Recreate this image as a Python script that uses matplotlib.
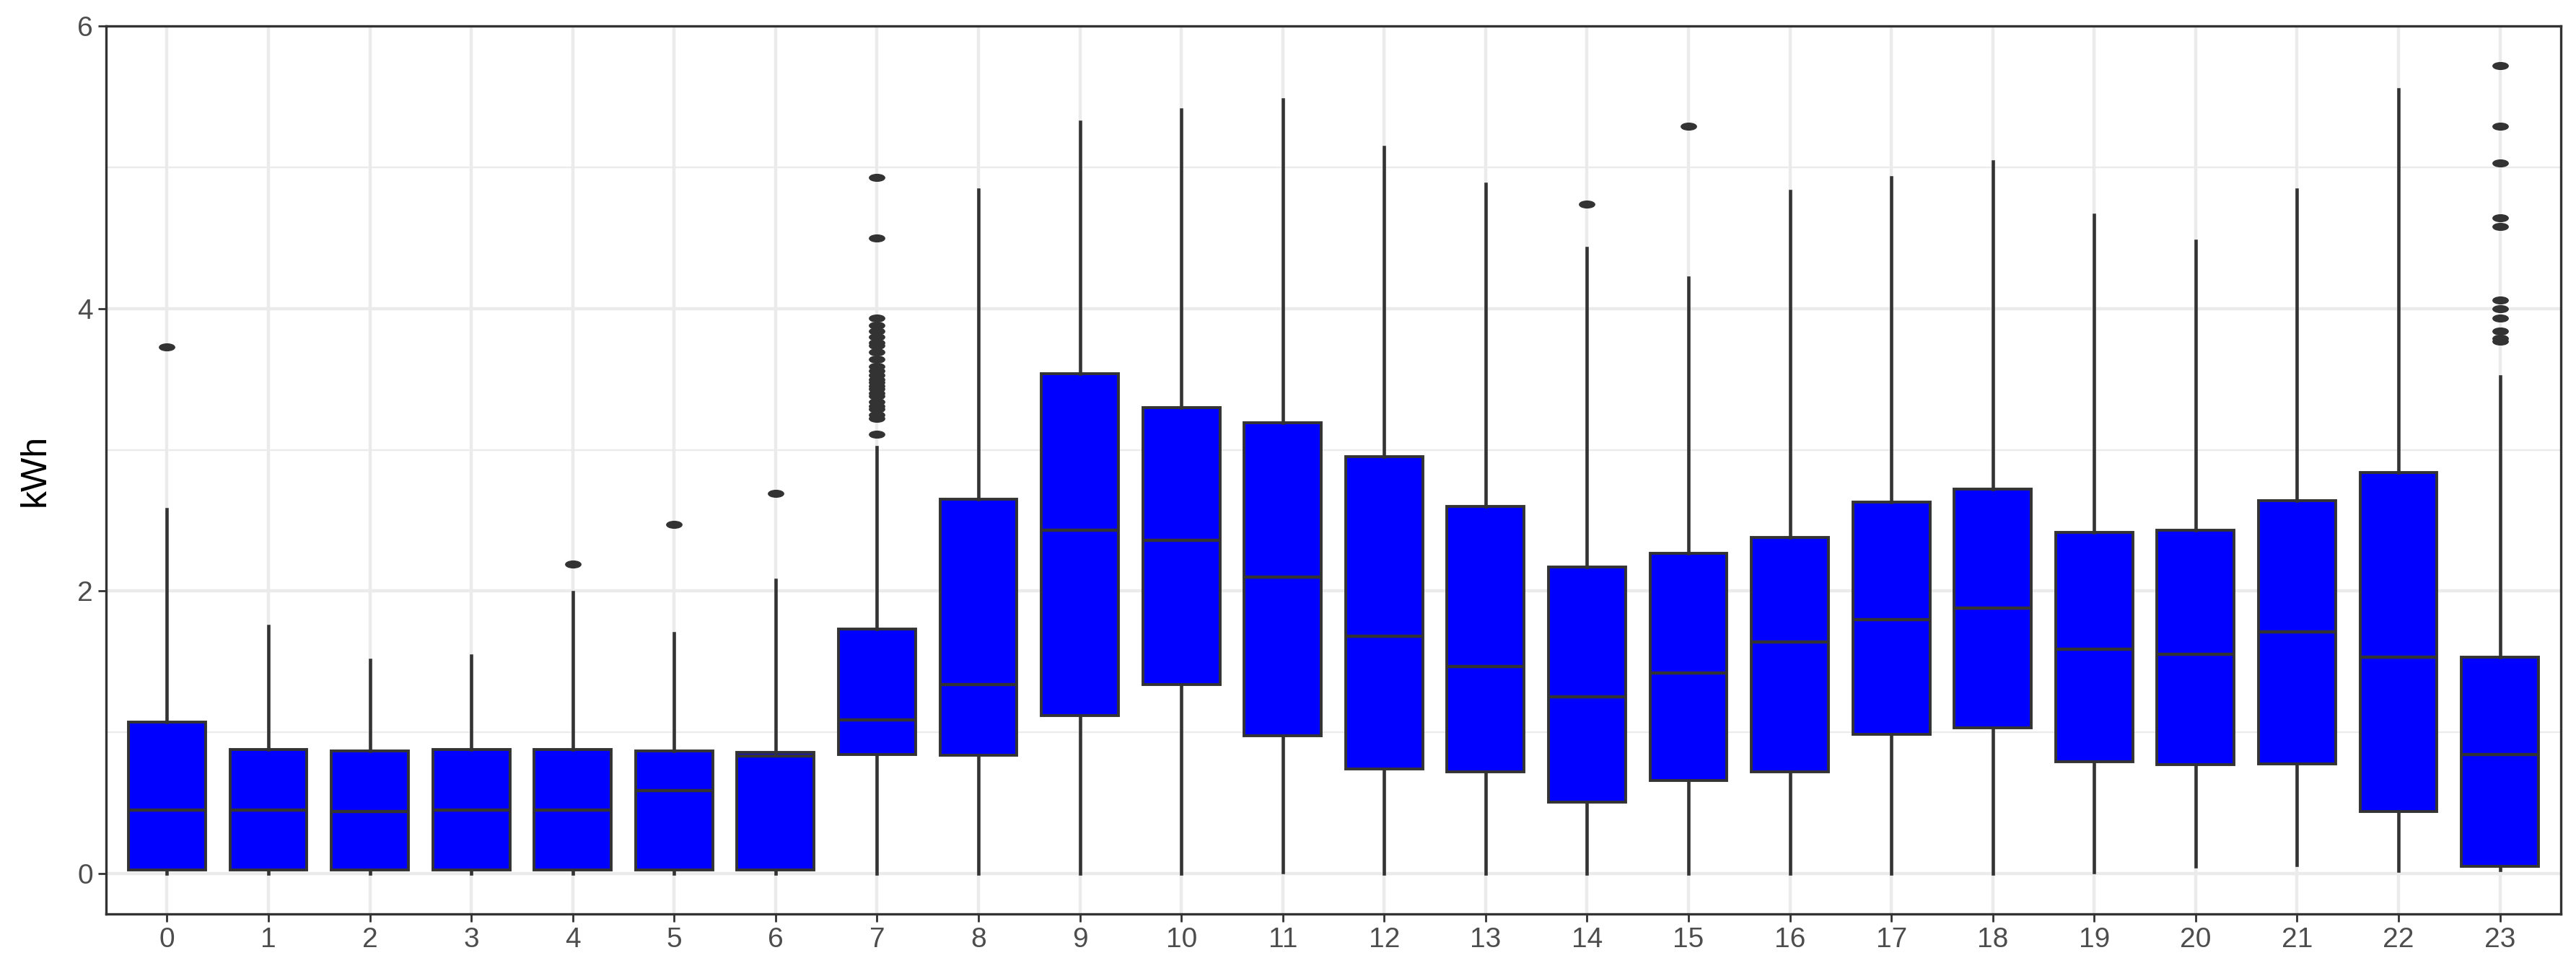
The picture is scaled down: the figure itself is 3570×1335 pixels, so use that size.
import matplotlib
matplotlib.use("Agg")
import matplotlib.pyplot as plt
from matplotlib.markers import MarkerStyle
from matplotlib.transforms import Affine2D

plt.rcParams['font.family'] = ['Liberation Sans', 'DejaVu Sans']

# hourly kWh distribution
hours = list(range(24))
q1 = [0.025, 0.025, 0.025, 0.025, 0.025, 0.025, 0.025, 0.845, 0.84, 1.12, 1.34, 0.975,
      0.74, 0.72, 0.505, 0.66, 0.72, 0.985, 1.03, 0.79, 0.77, 0.775, 0.44, 0.05]
med = [0.45, 0.45, 0.44, 0.45, 0.45, 0.585, 0.83, 1.09, 1.34, 2.43, 2.36, 2.10,
       1.68, 1.465, 1.25, 1.42, 1.64, 1.80, 1.88, 1.59, 1.55, 1.71, 1.53, 0.845]
q3 = [1.07, 0.88, 0.87, 0.88, 0.88, 0.87, 0.86, 1.73, 2.65, 3.54, 3.30, 3.19,
      2.95, 2.60, 2.17, 2.27, 2.38, 2.63, 2.72, 2.415, 2.43, 2.64, 2.84, 1.53]
whis_lo = [0.0, 0.0, 0.0, 0.0, 0.0, 0.0, 0.0, 0.0, 0.0, 0.0, 0.0, 0.01,
           0.0, 0.0, 0.0, 0.0, 0.0, 0.0, 0.0, 0.01, 0.05, 0.06, 0.02, 0.025]
whis_hi = [2.58, 1.75, 1.51, 1.54, 1.99, 1.70, 2.08, 3.02, 4.84, 5.32, 5.41, 5.48,
           5.14, 4.88, 4.43, 4.22, 4.83, 4.93, 5.04, 4.66, 4.48, 4.84, 5.55, 3.52]
outliers = {
    0: [3.73],
    4: [2.19],
    5: [2.47],
    6: [2.69],
    7: [4.93, 4.50, 3.93, 3.88, 3.84, 3.80, 3.76, 3.74, 3.69, 3.64, 3.59, 3.56, 3.53,
        3.50, 3.48, 3.45, 3.43, 3.40, 3.38, 3.34, 3.31, 3.29, 3.25, 3.22, 3.11],
    14: [4.74],
    15: [5.29],
    23: [5.72, 5.29, 5.03, 4.64, 4.58, 4.06, 4.00, 3.93, 3.84, 3.79, 3.77],
}
y_ticks = [0, 2, 4, 6]

stats = []
for h in hours:
    stats.append({"med": med[h], "q1": q1[h], "q3": q3[h],
                  "whislo": whis_lo[h], "whishi": whis_hi[h],
                  "fliers": outliers.get(h, [])})

edge = "#333333"
fig = plt.figure(figsize=(35.7, 13.35), dpi=100)
ax = fig.add_axes([0.0412, 0.0509, 0.9529, 0.9221])

flier_marker = MarkerStyle("o", transform=Affine2D().scale(2.2, 1.0))
ax.bxp(stats, positions=hours, widths=0.76, patch_artist=True, showcaps=False,
       boxprops=dict(facecolor="#0000FF", edgecolor=edge, linewidth=2.8),
       medianprops=dict(color=edge, linewidth=3.2),
       whiskerprops=dict(color=edge, linewidth=3.3),
       flierprops=dict(marker=flier_marker, markersize=7, markerfacecolor=edge,
                       markeredgecolor=edge, linestyle="none"),
       zorder=3)

ax.set_xlim(-0.6, 23.6)
ax.set_ylim(-0.286, 6.0)
ax.set_xticks(hours)
ax.set_xticklabels([str(h) for h in hours])
ax.set_yticks(y_ticks)
ax.set_yticks([1, 3, 5], minor=True)

ax.grid(True, which="major", color="#EBEBEB", linewidth=3.2, zorder=0)
ax.grid(True, which="minor", axis="y", color="#EBEBEB", linewidth=1.6, zorder=0)
ax.set_axisbelow(True)

for s in ax.spines.values():
    s.set_color(edge)
    s.set_linewidth(2.4)

ax.tick_params(axis="both", which="major", colors=edge, length=8, width=2,
               labelsize=28, labelcolor="#4D4D4D", pad=5)
ax.tick_params(axis="y", which="minor", length=0)
ax.set_ylabel("kWh", fontsize=36, labelpad=26)

fig.savefig("out.png", dpi=100, facecolor="white")
